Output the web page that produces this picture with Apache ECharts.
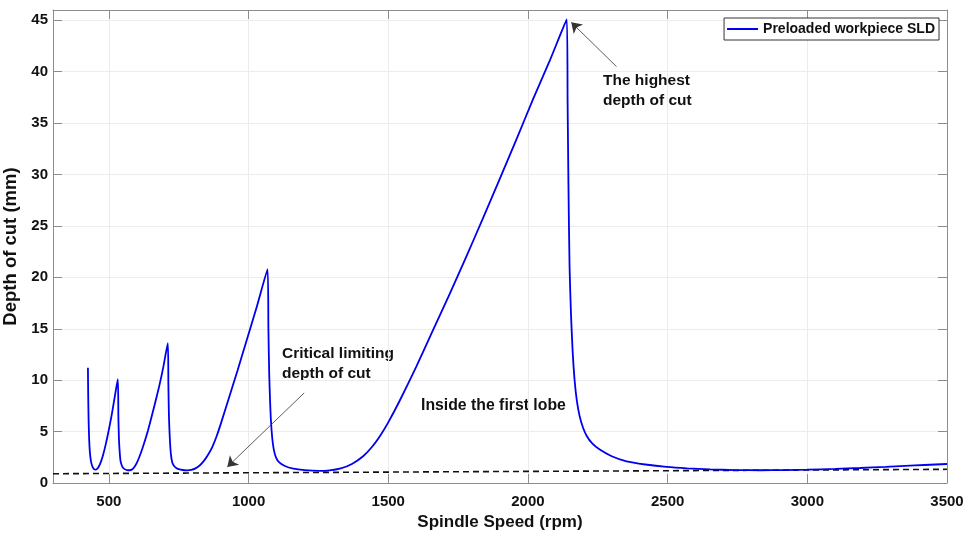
<!DOCTYPE html>
<html><head><meta charset="utf-8">
<script src="https://cdn.jsdelivr.net/npm/echarts@6/dist/echarts.min.js"></script>
<style>html,body{margin:0;padding:0;background:#fff}#c{width:965px;height:534px}</style>
</head><body><div id="c"></div>
<script>
const speed = [425,426,427.5,429.5,432,436,441,446,452,458,465,472,480,490,500,510,520,532,534,536,539,542,548,556,565,575,582,590,600,610,620,630,640,660,680,695,711,713,715,718,722,727,735,745,757,770,782,795,810,825,840,855,870,885,900,930,960,990,1030,1068,1071,1074,1077,1080,1085,1090,1098,1110,1130,1160,1200,1253,1290,1330,1370,1410,1440,1470,1500,1540,1600,1659,1720,1779,1840,1898,1960,2018,2080,2139,2142,2145,2149,2154,2160,2167,2175,2185,2197,2210,2230,2257,2300,2353,2420,2496,2570,2652,2740,2831,2920,2999,3100,3189,3280,3350,3420,3500];
const depth = [11.2,8.5,6.0,4.2,3.0,2.1,1.6,1.38,1.3,1.38,1.65,2.1,2.8,3.9,5.2,6.6,8.2,10.1,6.5,4.3,2.9,2.1,1.6,1.35,1.26,1.24,1.3,1.5,1.95,2.6,3.35,4.2,5.1,7.2,9.4,11.3,13.6,9.5,6.5,4.4,2.8,2.0,1.6,1.4,1.3,1.24,1.23,1.27,1.42,1.7,2.15,2.75,3.5,4.5,5.7,8.3,10.9,13.6,17.2,20.8,15.0,10.5,8.0,6.1,4.3,3.3,2.5,2.0,1.65,1.4,1.25,1.17,1.22,1.42,1.85,2.6,3.45,4.55,5.9,7.95,11.3,14.8,18.4,22.0,25.8,29.5,33.5,37.3,41.2,45.1,37,29,21,16.5,12.8,10.0,8.0,6.5,5.4,4.6,3.85,3.25,2.6,2.1,1.8,1.56,1.42,1.32,1.26,1.24,1.26,1.3,1.37,1.46,1.57,1.66,1.75,1.85];
const critSpeed = [300, 3500];
const critDepth = [0.9, 1.33];
const xTicks = [500,1000,1500,2000,2500,3000,3500];
const yTicks = [0,5,10,15,20,25,30,35,40,45];
const seriesName = 'Preloaded workpiece SLD';
const xTitle = 'Spindle Speed (rpm)';
const yTitle = 'Depth of cut (mm)';
const noteCritical = 'Critical limiting\ndepth of cut';
const noteLobe = 'Inside the first lobe';
const noteHighest = 'The highest\ndepth of cut';
const arrowCritical = [[1199, 8.76], [924, 1.56]];
const arrowHighest = [[2317, 40.5], [2155, 44.8]];

const FONT = '"Liberation Sans", Arial, Helvetica, sans-serif';
const AX = '#8c8c8c';
const mainData = speed.map((s, i) => [s, depth[i]]);
const critData = critSpeed.map((s, i) => [s, critDepth[i]]);
const plain = v => String(v);

function xAx(pos, main) {
  return {
    type: 'value', position: pos, min: 300, max: 3500,
    axisLine: {show: true, onZero: false, lineStyle: {color: AX, width: 1}},
    axisTick: {show: true, inside: true, length: 9, customValues: xTicks, lineStyle: {color: AX}},
    axisLabel: main ? {show: true, customValues: xTicks, formatter: plain, color: '#111', fontWeight: 'bold', fontSize: 15, fontFamily: FONT, margin: 11} : {show: false},
    splitLine: {show: main, lineStyle: {color: '#ececec', width: 1}},
    name: main ? xTitle : '', nameLocation: 'middle', nameGap: 30,
    nameTextStyle: {color: '#111', fontWeight: 'bold', fontSize: 17, fontFamily: FONT}
  };
}
function yAx(pos, main) {
  return {
    type: 'value', position: pos, min: 0, max: 46,
    axisLine: {show: true, onZero: false, lineStyle: {color: AX, width: 1}},
    axisTick: {show: true, inside: true, length: 9, customValues: yTicks, lineStyle: {color: AX}},
    axisLabel: main ? {show: true, customValues: yTicks, formatter: plain, color: '#111', fontWeight: 'bold', fontSize: 15, fontFamily: FONT, margin: 5} : {show: false},
    splitLine: {show: main, lineStyle: {color: '#ececec', width: 1}},
    name: main ? yTitle : '', nameLocation: 'middle', nameGap: 26, nameRotate: 90,
    nameTextStyle: {color: '#111', fontWeight: 'bold', fontSize: 18.5, fontFamily: FONT}
  };
}

const chart = echarts.init(document.getElementById('c'), null, {renderer: 'canvas'});
chart.setOption({
  animation: false,
  backgroundColor: '#fff',
  grid: {left: 53, right: 18, top: 10, bottom: 51, containLabel: false, outerBoundsMode: 'none'},
  xAxis: [xAx('bottom', true), xAx('top', false)],
  yAxis: [yAx('left', true), yAx('right', false)],
  legend: {
    data: [{name: seriesName, icon: 'rect'}], right: 26, top: 18, orient: 'horizontal',
    itemWidth: 31, itemHeight: 2, padding: [4, 4, 4, 3],
    borderColor: '#333', borderWidth: 1, backgroundColor: '#fff',
    textStyle: {color: '#111', fontWeight: 'bold', fontSize: 14, fontFamily: FONT}
  },
  series: [
    {
      name: 'critical', type: 'line', xAxisIndex: 0, yAxisIndex: 0,
      data: critData, symbol: 'none', silent: true,
      lineStyle: {color: '#111', width: 1.6, type: [6, 4]}, z: 2
    },
    {
      name: seriesName, type: 'line', xAxisIndex: 0, yAxisIndex: 0,
      data: mainData, symbol: 'none', smooth: 0.2, silent: true,
      lineStyle: {color: '#0000f0', width: 1.8}, itemStyle: {color: '#0000f0'}, z: 3,
      markLine: {
        silent: true, symbol: ['none', 'arrow'], symbolSize: 10,
        label: {show: false},
        lineStyle: {color: '#333', width: 0.8, type: 'solid'},
        data: [
          [{coord: arrowCritical[0]}, {coord: arrowCritical[1]}],
          [{coord: arrowHighest[0]}, {coord: arrowHighest[1]}]
        ]
      }
    }
  ],
  graphic: [
    {type: 'text', left: 282, top: 344, style: {text: noteCritical, fill: '#111', font: 'bold 15.5px ' + FONT, lineHeight: 20}},
    {type: 'text', left: 421, top: 398, style: {text: noteLobe, fill: '#111', font: 'bold 15.8px ' + FONT}},
    {type: 'text', left: 603, top: 71, style: {text: noteHighest, fill: '#111', font: 'bold 15.5px ' + FONT, lineHeight: 20}}
  ]
});
</script></body></html>
